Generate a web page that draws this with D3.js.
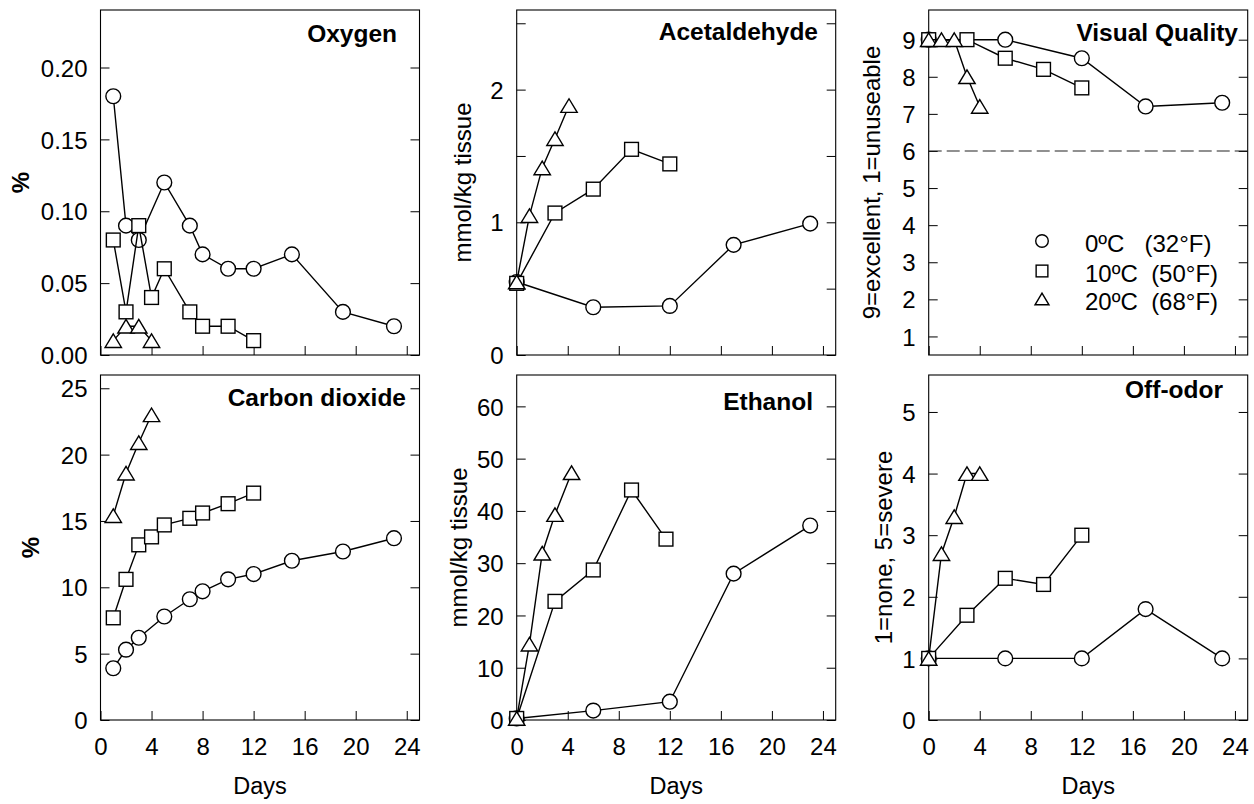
<!DOCTYPE html>
<html><head><meta charset="utf-8">
<script src="https://cdn.jsdelivr.net/npm/d3@7"></script>
<style>
body{margin:0;background:#fff}
text{font-family:"Liberation Sans",Arial,Helvetica,sans-serif;fill:#000}
</style>
</head><body>
<svg id="chart" width="1254" height="804"></svg>
<script>
// ---------- DATA ----------
const dayTicks = [0, 4, 8, 12, 16, 20, 24];

// Oxygen (%)
const oxygenDays0C  = [1, 2, 3, 5, 7, 8, 10, 12, 15, 19, 23];
const oxygen0C      = [0.18, 0.09, 0.08, 0.12, 0.09, 0.07, 0.06, 0.06, 0.07, 0.03, 0.02];
const oxygenDays10C = [1, 2, 3, 4, 5, 7, 8, 10, 12];
const oxygen10C     = [0.08, 0.03, 0.09, 0.04, 0.06, 0.03, 0.02, 0.02, 0.01];
const oxygenDays20C = [1, 2, 3, 4];
const oxygen20C     = [0.01, 0.02, 0.02, 0.01];
const oxygenTicks   = [0, 0.05, 0.10, 0.15, 0.20];

// Carbon dioxide (%)
const co2Days0C  = [1, 2, 3, 5, 7, 8, 10, 12, 15, 19, 23];
const co2_0C     = [3.9, 5.3, 6.2, 7.8, 9.1, 9.7, 10.6, 11.0, 12.0, 12.7, 13.7];
const co2Days10C = [1, 2, 3, 4, 5, 7, 8, 10, 12];
const co2_10C    = [7.7, 10.6, 13.2, 13.8, 14.7, 15.2, 15.6, 16.3, 17.1];
const co2Days20C = [1, 2, 3, 4];
const co2_20C    = [15.4, 18.6, 20.9, 23.0];
const co2Ticks   = [0, 5, 10, 15, 20, 25];

// Acetaldehyde (mmol/kg tissue)
const acetDays0C  = [0, 6, 12, 17, 23];
const acet0C      = [0.55, 0.36, 0.37, 0.83, 0.99];
const acetDays10C = [0, 3, 6, 9, 12];
const acet10C     = [0.54, 1.07, 1.25, 1.55, 1.44];
const acetDays20C = [0, 1, 2, 3, 4.1];
const acet20C     = [0.55, 1.05, 1.41, 1.63, 1.88];
const acetTicks   = [0, 0.5, 1, 1.5, 2, 2.5];

// Ethanol (mmol/kg tissue)
const ethDays0C  = [0, 6, 12, 17, 23];
const eth0C      = [0.3, 1.8, 3.5, 28.0, 37.2];
const ethDays10C = [0, 3, 6, 9, 11.7];
const eth10C     = [0.3, 22.7, 28.7, 44.0, 34.6];
const ethDays20C = [0, 1, 2, 3, 4.3];
const eth20C     = [0.3, 14.5, 31.9, 39.3, 47.3];
const ethTicks   = [0, 10, 20, 30, 40, 50, 60];

// Visual quality (9=excellent, 1=unuseable)
const vqDays0C  = [0, 6, 12, 17, 23];
const vq0C      = [9, 9, 8.5, 7.2, 7.3];
const vqDays10C = [0, 3, 6, 9, 12];
const vq10C     = [9, 9, 8.5, 8.2, 7.7];
const vqDays20C = [0, 1, 2, 3, 4];
const vq20C     = [9, 9, 9, 8.0, 7.2];
const vqTicks   = [1, 2, 3, 4, 5, 6, 7, 8, 9];
const vqLimit   = 6;

// Off-odor (1=none, 5=severe)
const odorDays0C  = [0, 6, 12, 17, 23];
const odor0C      = [1, 1, 1, 1.8, 1];
const odorDays10C = [0, 3, 6, 9, 12];
const odor10C     = [1, 1.7, 2.3, 2.2, 3.0];
const odorDays20C = [0, 1, 2, 3, 4];
const odor20C     = [1, 2.7, 3.3, 4.0, 4.0];
const odorTicks   = [0, 1, 2, 3, 4, 5];

const legendLabels = ["0ºC   (32°F)", "10ºC  (50°F)", "20ºC  (68°F)"];
const shapes = ["circle", "square", "triangle"];

// ---------- LAYOUT ----------
const colLeft = [100.5, 516.7, 928.7];
const rowTop = [10, 375];
const plotW = 319, plotH = 345;
const FS = 24;

const panels = [
  {title:"Oxygen", ylab:"%", ybold:true, dom:[0,0.24], ticks:oxygenTicks, fmt:d3.format(".2f"),
   series:[[oxygenDays0C,oxygen0C],[oxygenDays10C,oxygen10C],[oxygenDays20C,oxygen20C]],
   r:0, c:0, tx:397, ty:42, lx:29},
  {title:"Acetaldehyde", ylab:"mmol/kg tissue", dom:[0,2.6], ticks:acetTicks, fmt:d=>Number.isInteger(d)?d:"",
   series:[[acetDays0C,acet0C],[acetDays10C,acet10C],[acetDays20C,acet20C]],
   r:0, c:1, tx:818, ty:40, lx:471},
  {title:"Visual Quality", ylab:"9=excellent, 1=unuseable", dom:[0.5,9.8], ticks:vqTicks, fmt:d=>d,
   series:[[vqDays0C,vq0C],[vqDays10C,vq10C],[vqDays20C,vq20C]],
   r:0, c:2, tx:1238, ty:41, lx:880, refLine:vqLimit, legend:true},
  {title:"Carbon dioxide", ylab:"%", ybold:true, dom:[0,26], ticks:co2Ticks, fmt:d=>d,
   series:[[co2Days0C,co2_0C],[co2Days10C,co2_10C],[co2Days20C,co2_20C]],
   r:1, c:0, tx:406, ty:406, lx:39},
  {title:"Ethanol", ylab:"mmol/kg tissue", dom:[0,66], ticks:ethTicks, fmt:d=>d,
   series:[[ethDays0C,eth0C],[ethDays10C,eth10C],[ethDays20C,eth20C]],
   r:1, c:1, tx:813, ty:410, lx:467},
  {title:"Off-odor", ylab:"1=none, 5=severe", dom:[0,5.6], ticks:odorTicks, fmt:d=>d,
   series:[[odorDays0C,odor0C],[odorDays10C,odor10C],[odorDays20C,odor20C]],
   r:1, c:2, tx:1223, ty:398, lx:892}
];

const svg = d3.select("#chart");

function drawMarker(g, shape, x, y, s) {
  s = s || 1;
  if (shape === "circle") {
    g.append("circle").attr("cx", x).attr("cy", y).attr("r", 7.4*s)
      .attr("fill", "#fff").attr("stroke", "#000").attr("stroke-width", 1.4);
  } else if (shape === "square") {
    const h = 6.9*s;
    g.append("rect").attr("x", x-h).attr("y", y-h).attr("width", 2*h).attr("height", 2*h)
      .attr("fill", "#fff").attr("stroke", "#000").attr("stroke-width", 1.4);
  } else {
    const w = 8.2*s, hh = 6.8*s;
    g.append("path").attr("d", `M${x},${y-hh}L${x+w},${y+hh}L${x-w},${y+hh}Z`)
      .attr("fill", "#fff").attr("stroke", "#000").attr("stroke-width", 1.4).attr("stroke-linejoin","miter");
  }
}

panels.forEach(p => {
  const L = colLeft[p.c], T = rowTop[p.r];
  const x = d3.scaleLinear().domain([0, 25]).range([L, L + plotW]);
  const y = d3.scaleLinear().domain(p.dom).range([T + plotH, T]);
  const g = svg.append("g");

  // y axis left (inward ticks)
  const ya = g.append("g").attr("transform", `translate(${L},0)`)
    .call(d3.axisLeft(y).tickValues(p.ticks).tickSize(-9).tickPadding(13).tickFormat(p.fmt));
  ya.select(".domain").remove();
  ya.selectAll("text").attr("font-size", FS).attr("dy", "0.36em")
    .attr("font-family", "'Liberation Sans',Arial,sans-serif");
  ya.selectAll("line").attr("stroke", "#000");

  // y axis right
  const yr = g.append("g").attr("transform", `translate(${L+plotW},0)`)
    .call(d3.axisRight(y).tickValues(p.ticks).tickSize(-9).tickFormat(""));
  yr.select(".domain").remove();
  yr.selectAll("line").attr("stroke", "#000");

  // x axis bottom
  const xa = g.append("g").attr("transform", `translate(0,${T+plotH})`)
    .call(d3.axisBottom(x).tickValues(dayTicks).tickSize(-9).tickPadding(18)
      .tickFormat(p.r === 1 ? (d => d) : ""));
  xa.select(".domain").remove();
  xa.selectAll("text").attr("font-size", FS)
    .attr("font-family", "'Liberation Sans',Arial,sans-serif");
  xa.selectAll("line").attr("stroke", "#000");

  // frame
  g.append("rect").attr("x", L).attr("y", T).attr("width", plotW).attr("height", plotH)
    .attr("fill", "none").attr("stroke", "#000").attr("stroke-width", 1.1);

  // reference dashed line
  if (p.refLine !== undefined) {
    g.append("line").attr("x1", L).attr("x2", L + plotW)
      .attr("y1", y(p.refLine)).attr("y2", y(p.refLine))
      .attr("stroke", "#222").attr("stroke-width", 1.1).attr("stroke-dasharray", "13,5");
  }

  // title
  g.append("text").attr("x", p.tx).attr("y", p.ty).attr("text-anchor", "end")
    .attr("font-size", 24.5).attr("font-weight", "bold").text(p.title);

  // y label
  g.append("text").attr("transform", `translate(${p.lx},${T + plotH/2}) rotate(-90)`)
    .attr("text-anchor", "middle").attr("font-size", FS)
    .attr("font-weight", p.ybold ? "bold" : "normal")
    .style("white-space", "pre").text(p.ylab);

  // x label
  if (p.r === 1) {
    g.append("text").attr("x", L + plotW/2).attr("y", 794).attr("text-anchor", "middle")
      .attr("font-size", 23.5).text("Days");
  }

  // series
  const line = d3.line().x(d => x(d[0])).y(d => y(d[1]));
  p.series.forEach((s, i) => {
    const pts = s[0].map((d, k) => [d, s[1][k]]);
    g.append("path").attr("d", line(pts)).attr("fill", "none")
      .attr("stroke", "#000").attr("stroke-width", 1.4);
    pts.forEach(pt => drawMarker(g, shapes[i], x(pt[0]), y(pt[1])));
  });

  // legend
  if (p.legend) {
    const ly = [241, 271, 299];
    legendLabels.forEach((lab, i) => {
      drawMarker(g, shapes[i], 1042, ly[i], 0.85);
      g.append("text").attr("x", 1085).attr("y", ly[i] + 10.5)
        .attr("font-size", FS).style("white-space", "pre").text(lab);
    });
  }
});
</script>
</body></html>
